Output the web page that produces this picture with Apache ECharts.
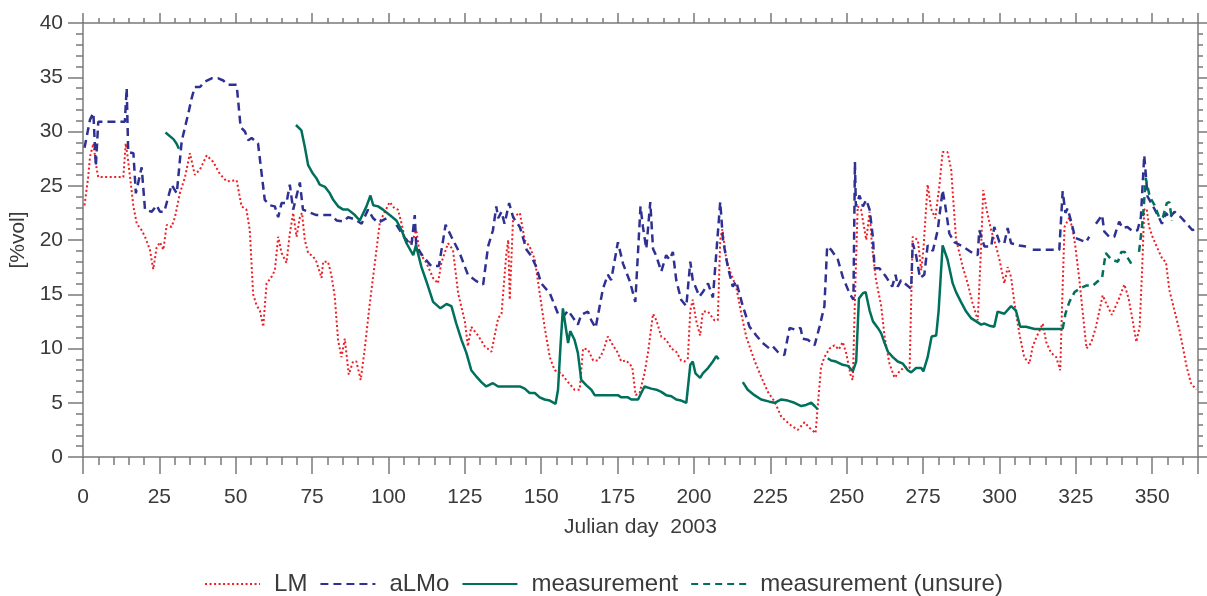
<!DOCTYPE html>
<html>
<head>
<meta charset="utf-8">
<script src="https://cdn.jsdelivr.net/npm/echarts@6/dist/echarts.min.js"></script>
<style>
  html, body { margin: 0; padding: 0; background: #fff; }
  #chart { width: 1207px; height: 596px; }
</style>
</head>
<body>
<div id="chart"></div>
<script>
// soil moisture, Julian day 2003
var lmDays = [0.5, 1.7, 2.3, 3.4, 4.5, 5.0, 13.2, 14.0, 14.6, 15.4, 16.5, 17.6, 19.2, 20.3, 21.9, 23.0, 24.1, 25.2, 26.3, 27.4,
    29.0, 30.1, 31.7, 33.4, 35.0, 36.6, 38.3, 40.5, 42.6, 44.8, 47.0, 50.3, 51.9, 53.5, 54.6, 55.7, 56.8, 57.9, 59.0, 60.1,
    61.7, 62.8, 63.9, 65.0, 66.6, 67.7, 68.8, 69.9, 71.0, 71.7, 72.6, 73.7, 75.3, 76.4, 78.1, 78.6, 80.2, 81.3, 82.4, 83.5,
    84.6, 85.7, 87.0, 88.4, 89.5, 90.9, 92.2, 93.9, 95.5, 97.2, 98.8, 100.4, 102.0, 103.1, 104.3, 105.3, 107.5, 109.1, 110.2, 112.4,
    114.6, 116.2, 117.3, 119.5, 121.1, 122.8, 125.0, 126.0, 127.1, 129.3, 131.5, 133.7, 135.9, 137.0, 138.6, 139.2, 139.7, 140.8, 143.0, 144.6,
    146.2, 147.9, 149.5, 151.1, 152.8, 154.4, 156.6, 158.2, 160.9, 162.6, 163.7, 165.3, 167.0, 168.6, 170.2, 171.8, 173.5, 175.1, 176.2, 177.8,
    179.8, 180.9, 182.2, 183.8, 185.0, 186.6, 187.7, 189.3, 190.9, 192.6, 194.2, 195.8, 196.9, 198.0, 198.8, 199.6, 200.7, 202.0, 202.9, 204.6,
    206.7, 207.8, 208.6, 209.3, 210.6, 212.2, 213.8, 215.5, 217.1, 219.8, 222.0, 224.2, 226.4, 228.6, 230.2, 231.8, 234.0, 236.2, 237.8, 239.8,
    240.5, 241.6, 242.7, 244.4, 246.0, 247.4, 248.7, 249.8, 251.4, 252.0, 252.9, 253.6, 254.7, 256.4, 257.5, 258.3, 259.6, 261.3, 262.4, 264.0,
    265.7, 267.3, 268.9, 270.6, 271.6, 273.3, 274.4, 275.1, 276.5, 277.6, 279.0, 280.3, 281.4, 283.0, 284.2, 285.8, 286.9, 288.0, 289.6, 291.2,
    292.9, 294.0, 294.7, 295.8, 297.3, 298.9, 300.0, 301.6, 302.7, 303.8, 304.9, 306.5, 308.1, 309.8, 310.9, 312.2, 314.2, 315.3, 316.9, 318.6,
    319.9, 320.5, 321.3, 322.9, 324.0, 324.8, 326.1, 327.2, 328.5, 330.0, 331.6, 333.8, 334.9, 336.8, 339.0, 340.9, 342.3, 343.6, 344.8, 345.9,
    346.7, 347.4, 348.2, 349.0, 350.1, 351.8, 353.4, 354.5, 355.6, 357.3, 358.9, 360.0, 361.3, 362.7, 364.4];
var lmVals = [23.2, 25.8, 27.7, 28.9, 26.5, 25.8, 25.8, 28.9, 27.7, 25.8, 23.1, 21.5, 20.9, 20.3, 19.1, 17.3, 19.3, 19.8, 19.1, 21.4,
    21.2, 22.1, 24.3, 25.8, 28.0, 26.0, 26.5, 27.8, 27.2, 26.1, 25.4, 25.5, 23.1, 22.8, 20.9, 15.0, 14.0, 13.5, 12.0, 16.0,
    16.6, 17.2, 20.3, 18.8, 17.9, 20.6, 22.5, 20.3, 22.1, 22.5, 20.0, 18.8, 18.5, 18.0, 16.5, 18.0, 18.0, 16.8, 14.8, 10.8,
    9.2, 10.9, 7.6, 8.8, 8.8, 7.1, 9.9, 14.2, 17.8, 21.7, 22.6, 23.5, 22.9, 22.8, 21.5, 20.2, 19.7, 20.9, 18.8, 17.9,
    16.5, 16.0, 17.9, 19.7, 19.1, 15.1, 12.5, 10.2, 12.0, 11.2, 10.2, 9.7, 12.8, 13.2, 18.8, 20.0, 14.5, 22.1, 22.5, 20.0,
    19.4, 18.2, 15.1, 12.0, 9.2, 8.0, 7.7, 7.1, 6.2, 6.2, 10.0, 9.9, 8.9, 8.9, 9.7, 11.1, 10.3, 9.6, 8.8, 8.9,
    8.3, 5.7, 5.9, 7.7, 9.7, 13.2, 12.6, 11.1, 10.8, 10.0, 9.7, 8.9, 8.8, 9.1, 13.5, 14.5, 12.6, 11.2, 13.4, 13.4,
    12.6, 12.6, 20.0, 21.0, 18.2, 16.8, 15.7, 13.2, 11.1, 8.9, 7.4, 6.0, 5.1, 3.7, 3.3, 2.9, 2.5, 3.2, 2.7, 2.2,
    4.6, 8.3, 9.2, 10.0, 10.3, 9.9, 10.6, 9.6, 7.4, 7.1, 16.6, 23.1, 22.8, 20.0, 22.6, 19.4, 16.3, 13.9, 11.1, 8.6,
    7.3, 7.9, 8.3, 8.2, 20.3, 20.0, 17.2, 19.1, 25.1, 22.9, 22.0, 24.9, 28.1, 28.1, 26.5, 20.0, 18.8, 17.5, 16.0, 14.2,
    12.6, 19.4, 24.6, 22.8, 20.9, 19.4, 18.2, 16.0, 17.5, 16.6, 14.2, 11.4, 9.2, 8.6, 10.2, 11.1, 12.3, 10.6, 9.6, 9.2,
    8.0, 13.9, 21.2, 22.1, 20.9, 19.5, 16.5, 13.5, 10.0, 10.5, 12.0, 14.9, 14.2, 13.1, 14.5, 15.9, 14.6, 12.6, 10.6, 12.0,
    17.2, 22.8, 22.9, 21.2, 20.3, 19.2, 18.2, 18.0, 15.4, 13.5, 11.7, 10.2, 8.3, 6.8, 6.2];

var almoDays = [0.5, 2.3, 3.4, 4.2, 5.0, 13.7, 14.3, 14.8, 16.5, 17.3, 19.2, 20.3, 22.5, 24.1, 25.2, 26.6, 29.0, 30.7, 32.3, 34.5,
    35.6, 36.6, 38.3, 39.9, 42.1, 44.3, 45.9, 47.5, 50.3, 51.6, 53.0, 54.1, 55.2, 57.3, 59.5, 61.2, 62.8, 63.9, 65.0, 66.6,
    67.7, 68.8, 71.0, 72.0, 73.7, 76.4, 81.3, 83.0, 85.2, 86.8, 89.0, 91.2, 93.3, 95.0, 96.6, 99.3, 100.5, 102.6, 105.3, 107.5,
    108.6, 109.1, 111.3, 114.0, 116.5, 118.7, 120.6, 123.3, 126.0, 128.8, 131.0, 132.6, 134.2, 135.3, 135.9, 137.0, 138.0, 139.5, 140.8, 143.0,
    145.2, 146.8, 148.4, 150.0, 152.8, 155.5, 157.1, 158.8, 162.0, 163.1, 165.3, 166.4, 167.8, 170.2, 171.8, 172.9, 175.1, 176.8, 179.0, 180.8,
    182.5, 183.3, 184.4, 185.7, 186.6, 187.7, 189.3, 190.9, 192.0, 193.1, 194.2, 195.8, 197.5, 198.8, 199.6, 201.8, 202.9, 204.6, 206.2, 208.6,
    209.5, 211.1, 212.7, 213.8, 216.0, 218.2, 220.4, 222.5, 224.7, 225.8, 227.4, 229.6, 231.3, 233.5, 234.9, 235.6, 237.3, 239.5, 241.1, 242.7,
    243.6, 244.9, 247.1, 248.7, 250.9, 252.2, 252.7, 253.0, 254.2, 255.3, 256.4, 257.5, 258.6, 259.1, 260.7, 262.9, 264.9, 266.0, 266.7, 267.8,
    271.1, 271.6, 272.7, 274.0, 275.4, 276.5, 278.2, 279.8, 281.4, 282.3, 283.6, 285.2, 288.0, 289.6, 291.2, 292.9, 293.4, 295.1, 297.3, 298.3,
    300.0, 301.6, 302.7, 303.8, 306.5, 308.7, 309.8, 310.9, 319.6, 320.7, 321.6, 322.3, 323.4, 324.8, 328.3, 329.4, 330.5, 331.6, 333.6, 334.3,
    335.9, 337.6, 339.2, 340.3, 341.9, 343.6, 345.2, 346.3, 347.4, 348.5, 350.1, 351.8, 353.2, 354.5, 355.6, 357.3, 359.4, 361.6, 363.2, 364.9];
var almoVals = [28.5, 31.1, 31.7, 26.8, 30.9, 30.9, 34.0, 28.1, 28.0, 24.3, 26.7, 22.8, 22.6, 23.2, 22.6, 22.6, 25.1, 24.3, 29.1, 31.7,
    33.1, 34.1, 34.1, 34.6, 34.9, 34.9, 34.7, 34.3, 34.3, 30.4, 30.0, 29.2, 29.4, 28.9, 23.7, 23.2, 23.1, 22.1, 23.4, 23.4,
    25.1, 22.8, 25.3, 22.8, 22.6, 22.3, 22.3, 21.8, 21.7, 22.1, 21.9, 21.5, 22.8, 22.0, 21.6, 22.0, null, 21.4, 20.2, 19.5,
    22.3, 19.4, 18.5, 17.6, 17.6, 21.4, 20.3, 18.8, 16.8, 16.2, 15.9, 19.4, 20.9, 23.1, 22.0, 22.6, 21.5, 23.4, 22.1, 21.2,
    19.1, 18.5, 17.5, 16.0, 15.1, 13.2, 12.9, 13.5, 12.2, 13.1, 13.4, 12.6, 11.9, 15.5, 16.8, 16.3, 19.8, 17.8, 16.2, 14.3,
    23.1, 21.2, 19.2, 23.5, 19.2, 18.5, 17.1, 18.6, 18.2, 18.9, 16.3, 14.5, 13.9, 18.0, 16.3, 14.8, 15.2, 16.0, 14.7, 23.5,
    20.0, 17.5, 15.7, 16.2, 13.9, 12.0, 11.2, 10.5, 10.0, 10.2, 9.7, 9.4, 11.9, 11.7, 11.9, 10.9, 10.8, 10.3, 12.0, 13.9,
    19.4, 19.1, 18.2, 16.6, 15.1, 14.5, 27.2, 23.1, 24.1, 23.1, 23.7, 22.8, 20.2, 17.4, 17.4, 16.6, 15.7, 16.8, 15.7, 16.3,
    15.5, 19.7, 18.6, 16.5, 16.8, 19.5, 19.0, 20.9, 24.6, 23.1, 20.6, 19.8, 19.4, 19.1, 18.8, 18.6, 20.9, 19.4, 19.4, 21.2,
    19.8, 19.7, 21.1, 19.7, 19.5, 19.4, null, 19.1, 19.1, 24.5, 22.5, 22.9, 21.8, 20.2, 19.8, 20.3, null, 21.5, 22.3, 20.8,
    20.3, 20.3, 21.7, 21.1, 21.2, 20.8, 20.9, 22.1, 27.8, 24.0, 23.2, 22.3, 21.5, 22.5, 22.0, 22.6, 22.1, 21.4, 20.9, 21.2];

var measDays = [27.0, 29.6, 30.6, 31.4, 50.0,
    69.7, 71.5, 72.6, 73.7, 75.3, 76.4, 77.5, 79.2, 80.8, 81.9, 83.5, 85.2, 86.8, 89.0, 90.6, 91.2, 92.8, 94.1, 95.0, 96.6,
    98.2, 100.4, 102.6, 104.3, 105.9, 108.1, 109.0, 110.8, 112.4, 114.6, 117.0, 119.0, 120.6, 122.2, 123.9, 125.5, 127.1, 128.8, 130.4, 132.0,
    134.2, 135.9, 143.0, 144.6, 146.2, 147.9, 149.5, 151.1, 152.8, 154.7, 155.5, 156.3, 157.1, 158.0, 158.8, 159.5, 160.9, 162.0, 163.1, 164.8,
    166.4, 167.5, 175.1, 176.2, 178.4, 179.5, 181.7, 183.8, 186.0, 187.7, 189.3, 190.9, 192.6, 194.2, 195.8, 197.5, 198.8, 199.6, 200.5, 202.0,
    202.9, 204.6, 206.2, 207.3, 208.1, 212.0,
    216.0, 217.6, 219.8, 222.0, 224.7, 226.4, 228.6, 230.7, 232.9, 235.1, 236.7, 238.4, 239.5, 240.5, 242.0,
    243.8, 244.9, 246.5, 248.7, 250.4, 252.0, 253.1, 254.0, 255.3, 256.2, 257.5, 258.6, 260.2, 261.3, 262.4, 263.5, 265.1, 266.7, 268.4, 270.0,
    271.1, 272.7, 274.4, 275.1, 276.5, 277.8, 279.3, 280.1, 281.4, 283.0, 284.7, 285.8, 287.4, 289.1, 290.7, 292.4, 294.0, 295.1, 296.7, 298.3,
    299.4, 301.6, 303.8, 305.4, 306.8, 308.7, 311.5, 320.7];
var measVals = [29.9, 29.3, 28.9, 28.4, null,
    30.6, 30.1, 28.6, 26.9, 26.1, 25.7, 25.1, 24.9, 24.3, 23.7, 23.1, 22.8, 22.8, 22.3, 21.8, 21.7, 23.1, 24.1, 23.2, 23.1,
    22.8, 22.3, 21.8, 20.9, 19.7, 18.6, 19.5, 17.5, 16.2, 14.3, 13.7, 14.1, 13.9, 12.3, 10.8, 9.6, 8.0, 7.4, 6.9, 6.5,
    6.8, 6.5, 6.5, 6.3, 5.9, 5.9, 5.5, 5.3, 5.2, 4.9, 6.2, 10.2, 13.7, 12.0, 10.5, 11.6, 10.8, 9.6, 7.1, 6.6,
    6.2, 5.7, 5.7, 5.5, 5.5, 5.3, 5.3, 6.5, 6.3, 6.2, 6.0, 5.7, 5.6, 5.3, 5.2, 5.0, 8.5, 8.8, 7.7, 7.3,
    7.7, 8.2, 8.8, 9.3, 9.0, null,
    6.9, 6.2, 5.7, 5.3, 5.1, 5.0, 5.3, 5.2, 5.0, 4.7, 4.8, 5.0, 4.7, 4.4, null,
    9.1, 8.9, 8.8, 8.5, 8.4, 7.9, 8.8, 14.6, 15.1, 15.2, 13.5, 12.5, 11.9, 11.4, 10.5, 9.7, 9.2, 8.8, 8.6, 8.0,
    7.8, 8.2, 8.2, 7.9, 9.2, 11.1, 11.2, 13.5, 19.5, 18.2, 16.0, 15.2, 14.3, 13.4, 12.8, 12.5, 12.2, 12.3, 12.1, 12.0,
    13.4, 13.2, 13.9, 13.5, 12.0, 12.0, 11.8, 11.8];

var unsureDays = [320.7, 321.6, 322.9, 324.6, 326.2, 328.4, 330.6, 332.2, 333.6, 334.1, 334.8, 336.6, 338.8, 339.9, 341.0, 342.1, 343.4, 344.5,
    345.7, 347.0, 347.9, 349.2, 350.8, 352.4, 353.5, 354.8, 355.6, 356.5];
var unsureVals = [11.8, 13.2, 14.3, 15.2, 15.5, 15.8, 15.8, 16.2, 16.5, 17.5, 18.8, 18.2, 18.0, 18.9, 18.9, 18.3, 17.7, null,
    18.9, 22.1, 25.7, 24.0, 23.2, 22.0, 22.1, 23.4, 23.5, 21.8];

var xTicks = [0, 365, 25];   // min, max, step
var yTicks = [0, 40, 5];

function pairs(days, vals) {
    return days.map(function (d, i) {
        return vals[i] === null ? [d, '-'] : [d, vals[i]];
    });
}

var font = 'Liberation Sans';
var axisCol = '#7a7a7a';
var textCol = '#3a3a3a';

var chart = echarts.init(document.getElementById('chart'));

function xAx(pos, showLab, major, minor) {
    return {
        type: 'value', position: pos, min: xTicks[0], max: xTicks[1], interval: xTicks[2],
        name: showLab ? 'Julian day  2003' : '',
        nameLocation: 'middle', nameGap: 60,
        nameTextStyle: { fontFamily: font, fontSize: 21, color: textCol },
        axisLine: { show: true, onZero: false, lineStyle: { color: axisCol, width: 1.5 } },
        axisTick: { show: true, length: major, lineStyle: { color: axisCol, width: 1.5 } },
        minorTick: { show: true, splitNumber: 5, length: minor, lineStyle: { color: axisCol, width: 1.5 } },
        axisLabel: { show: showLab, showMaxLabel: false, margin: 30, fontFamily: font, fontSize: 21, color: textCol },
        splitLine: { show: false }
    };
}
function yAx(pos, showLab, major, minor) {
    return {
        type: 'value', position: pos, min: yTicks[0], max: yTicks[1], interval: yTicks[2],
        name: showLab ? '[%vol]' : '',
        nameLocation: 'middle', nameGap: 54, nameRotate: 90,
        nameTextStyle: { fontFamily: font, fontSize: 21, color: textCol },
        axisLine: { show: true, onZero: false, lineStyle: { color: axisCol, width: 1.5 } },
        axisTick: { show: true, length: major, lineStyle: { color: axisCol, width: 1.5 } },
        minorTick: { show: true, splitNumber: 5, length: minor, lineStyle: { color: axisCol, width: 1.5 } },
        axisLabel: { show: showLab, margin: 20, fontFamily: font, fontSize: 21, color: textCol },
        splitLine: { show: false }
    };
}

chart.setOption({
    animation: false,
    backgroundColor: '#fff',
    grid: { left: 83, right: 9, top: 23, bottom: 139, outerBoundsMode: 'none' },
    legend: {
        top: 567, left: 'center',
        itemWidth: 55, itemHeight: 14, itemGap: 12,
        itemStyle: { opacity: 0 },
        textStyle: { fontFamily: font, fontSize: 24, color: textCol, padding: [0, 0, 0, 9] },
        data: ['LM', 'aLMo', 'measurement', 'measurement (unsure)']
    },
    xAxis: [xAx('bottom', true, 17, 8), xAx('top', false, 10, 5)],
    yAxis: [yAx('left', true, 15, 7), yAx('right', false, 10, 5)],
    series: [
        {
            name: 'LM', type: 'line', symbol: 'none', data: pairs(lmDays, lmVals),
            itemStyle: { color: '#ee1d23' },
            lineStyle: { color: '#ee1d23', width: 2, type: [2, 2.5] }
        },
        {
            name: 'aLMo', type: 'line', symbol: 'none', data: pairs(almoDays, almoVals),
            itemStyle: { color: '#2e3192' },
            lineStyle: { color: '#2e3192', width: 2.5, type: [8, 5] }
        },
        {
            name: 'measurement', type: 'line', symbol: 'none', data: pairs(measDays, measVals),
            itemStyle: { color: '#00705c' },
            lineStyle: { color: '#00705c', width: 2.5, type: 'solid' }
        },
        {
            name: 'measurement (unsure)', type: 'line', symbol: 'none', data: pairs(unsureDays, unsureVals),
            itemStyle: { color: '#00705c' },
            lineStyle: { color: '#00705c', width: 2.5, type: [7, 5] }
        }
    ]
});
</script>
</body>
</html>
